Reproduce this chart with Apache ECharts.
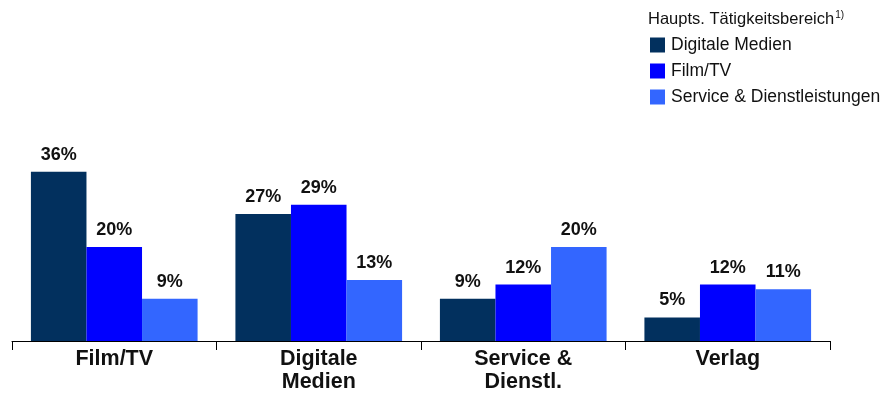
<!DOCTYPE html>
<html><head><meta charset="utf-8">
<script src="https://cdn.jsdelivr.net/npm/echarts@6/dist/echarts.min.js"></script>
<style>html,body{margin:0;padding:0;background:#fff}#c{width:881px;height:396px}</style>
</head><body><div id="c"></div>
<script>
const categories = ['Film/TV', 'Digitale\nMedien', 'Service &\nDienstl.', 'Verlag'];
const seriesNames = ['Digitale Medien', 'Film/TV', 'Service & Dienstleistungen'];
const digitaleMedien = [36, 27, 9, 5];
const filmTV = [20, 29, 12, 12];
const service = [9, 13, 20, 11];
const colors = ['#02305E', '#0000FF', '#3366FF'];
const FONT = '"Liberation Sans", Arial, sans-serif';

const chart = echarts.init(document.getElementById('c'), null, {renderer: 'canvas'});
const mk = (name, data, color) => ({
  name, type: 'bar', data, barGap: '0%', barCategoryGap: '18.5%',
  itemStyle: {color},
  label: {show: true, position: 'top', distance: 8, formatter: '{c}%',
    fontFamily: FONT, fontWeight: 'bold', fontSize: 18, color: '#111'}
});
chart.setOption({
  animation: false,
  title: {
    text: '{a|Haupts. Tätigkeitsbereich}{s|1)}',
    left: 643, top: 5,
    textStyle: {fontWeight: 'normal', rich: {
      a: {fontFamily: FONT, fontSize: 16.5, fontWeight: 'normal', color: '#111'},
      s: {fontFamily: FONT, fontSize: 10, fontWeight: 'normal', color: '#111', verticalAlign: 'top', padding: [0,0,8,1]}
    }}
  },
  legend: {
    data: seriesNames, orient: 'vertical', left: 645, top: 31,
    icon: 'rect', itemWidth: 15, itemHeight: 15, itemGap: 8,
    textStyle: {fontFamily: FONT, fontSize: 17.5, lineHeight: 15, color: '#111', padding: [0,0,0,1]}
  },
  grid: {left: 12, right: 51, top: 153, bottom: 55},
  xAxis: {
    type: 'category', data: categories,
    axisLine: {lineStyle: {color: '#000', width: 1}},
    axisTick: {show: true, length: 9, lineStyle: {color: '#000'}},
    axisLabel: {margin: 7, fontFamily: FONT, fontWeight: 'bold', fontSize: 21.5,
      color: '#111', lineHeight: 23}
  },
  yAxis: {type: 'value', min: 0, max: 40, show: false, splitLine: {show: false}},
  series: [mk(seriesNames[0], digitaleMedien, colors[0]),
           mk(seriesNames[1], filmTV, colors[1]),
           mk(seriesNames[2], service, colors[2])]
});
</script></body></html>
